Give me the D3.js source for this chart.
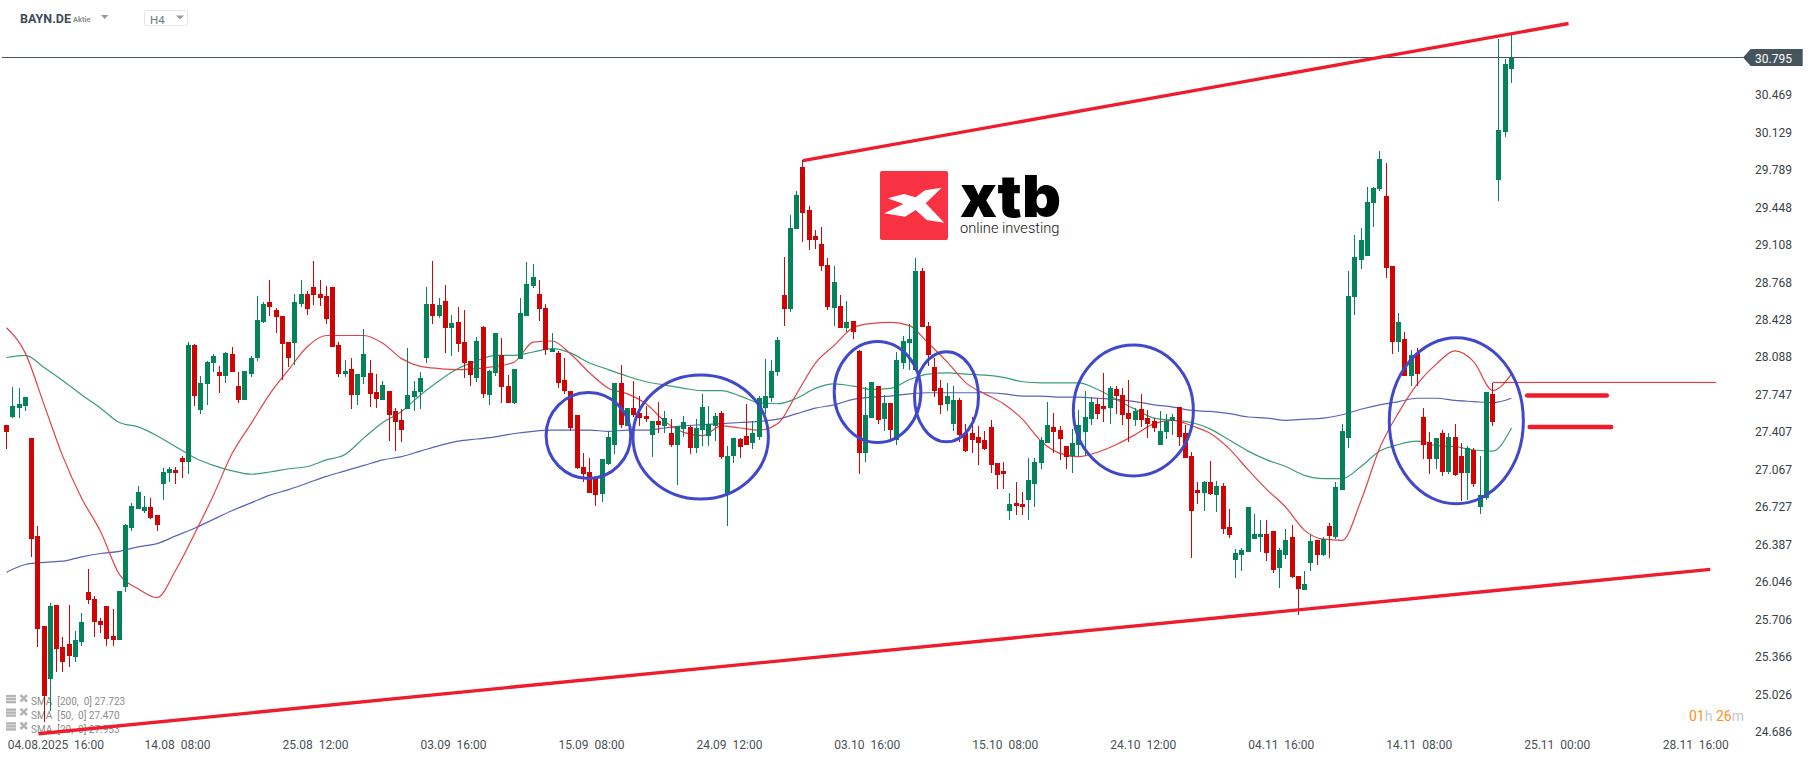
<!DOCTYPE html>
<html>
<head>
<meta charset="utf-8">
<title>BAYN.DE H4</title>
<script src="https://cdn.jsdelivr.net/npm/d3@7/dist/d3.min.js"></script>
<style>
html,body{margin:0;padding:0;background:#fff;}
svg{display:block;}
text{font-family:Roboto,sans-serif;}
.axis path,.axis line{display:none;}
.axis text{font-family:Roboto,sans-serif;font-size:12px;white-space:pre;}
</style>
</head>
<body>
<svg id="chart" width="1815" height="761"></svg>
<script>
const opens = [
27.46,27.53,27.61,27.63,27.34,26.45,25.63,25.15,25.82,25.44,
25.47,25.35,25.49,25.94,25.88,25.68,25.81,25.54,25.50,25.99,
26.52,26.69,26.68,26.71,26.64,26.92,27.02,27.05,27.16,27.12,
28.18,27.59,27.83,28.02,27.94,27.90,28.10,27.81,27.68,27.92,
28.07,28.39,28.57,28.50,28.45,28.21,28.20,28.56,28.65,28.71,
28.65,28.63,28.71,28.18,27.92,27.97,27.73,27.89,27.93,27.76,
27.68,27.77,27.58,27.50,27.60,27.71,27.76,28.07,28.56,28.45,
28.58,28.34,28.39,28.21,28.04,27.88,28.35,27.73,27.93,28.09,
27.81,27.66,28.06,28.45,28.72,28.65,28.52,28.12,28.11,27.87,
27.77,27.55,27.08,27.03,26.97,26.83,27.10,27.28,27.84,27.45,
27.61,27.57,27.54,27.37,27.49,27.45,27.38,27.28,27.42,27.44,
27.25,27.41,27.36,27.45,27.57,26.83,27.18,27.33,27.36,27.29,
27.35,27.61,27.70,27.94,28.64,28.51,29.24,29.80,29.41,29.17,
29.10,28.91,28.52,28.54,28.34,28.40,28.13,27.20,27.52,27.81,
27.51,27.66,27.32,28.02,28.20,27.96,28.86,28.36,27.98,27.79,
27.65,27.47,27.68,27.38,27.38,27.35,27.32,27.44,27.11,27.04,
26.68,26.75,26.74,26.78,26.92,27.11,27.29,27.44,27.41,27.27,
27.18,27.28,27.39,27.51,27.65,27.63,27.61,27.78,27.73,27.57,
27.50,27.60,27.52,27.49,27.28,27.39,27.49,27.62,27.38,27.18,
26.87,26.84,26.94,26.82,26.90,26.53,26.23,26.28,26.30,26.42,
26.44,26.47,26.49,26.16,26.28,26.44,26.09,25.96,26.20,26.41,
26.28,26.54,26.44,26.87,27.34,28.62,28.96,28.99,29.47,29.60,
29.54,28.90,28.21,28.24,27.90,28.11,27.53,27.30,27.15,27.38,
27.03,27.35,27.18,27.02,27.23,26.71,26.79,27.74,29.68,30.12,30.69];
const highs = [
27.46,27.80,27.79,27.71,27.34,26.54,25.63,25.84,25.82,25.53,
25.82,25.59,25.75,26.15,25.90,25.70,25.81,25.79,25.95,26.56,
26.75,26.90,26.81,26.79,26.64,27.07,27.08,27.08,27.18,28.21,
28.19,27.90,28.04,28.10,27.99,28.12,28.17,27.94,27.95,28.08,
28.63,28.57,28.77,28.52,28.45,28.21,28.65,28.77,28.67,28.95,
28.77,28.72,28.71,28.21,28.05,28.07,27.92,28.33,28.05,27.92,
27.86,27.77,27.61,27.60,28.16,27.86,27.94,28.71,28.95,28.61,
28.73,28.46,28.53,28.50,28.04,28.26,28.36,27.96,28.29,28.25,
27.91,27.97,28.61,28.94,28.92,28.77,28.56,28.29,28.13,28.07,
27.77,27.55,27.20,27.16,26.97,27.15,27.40,27.84,28.00,27.61,
27.86,27.72,27.63,27.49,27.67,27.58,27.51,27.45,27.54,27.46,
27.51,27.74,27.63,27.57,27.58,27.27,27.34,27.34,27.65,27.49,
27.72,28.06,28.05,28.26,28.98,29.36,29.58,29.86,29.45,29.23,
29.26,28.97,28.90,28.64,28.58,28.40,28.14,27.80,27.85,27.81,
27.73,27.66,28.12,28.27,28.37,28.97,28.88,28.39,28.07,27.87,
27.84,27.81,27.70,27.47,27.53,27.45,27.40,27.50,27.11,27.12,
26.84,26.94,26.85,27.16,27.16,27.35,27.67,27.57,27.45,27.27,
27.42,27.59,27.77,27.71,27.70,27.93,27.81,27.81,27.79,27.87,
27.61,27.74,27.59,27.52,27.58,27.56,27.56,27.62,27.46,27.21,
26.94,26.95,27.13,26.95,26.93,26.69,26.33,26.34,26.71,26.65,
26.59,26.59,26.49,26.34,26.51,26.55,26.09,26.13,26.46,26.41,
26.44,26.57,26.94,27.47,28.86,29.18,29.25,29.62,29.62,29.95,
29.84,28.90,28.47,28.30,28.14,28.16,27.61,27.39,27.34,27.41,
27.38,27.47,27.29,27.27,27.25,27.18,27.76,27.84,30.96,30.78,31.02];
const lows = [
27.24,27.52,27.52,27.58,26.26,25.44,24.76,24.86,25.21,25.21,
25.26,25.30,25.45,25.83,25.53,25.57,25.45,25.45,25.50,25.94,
26.49,26.69,26.66,26.60,26.49,26.78,26.94,26.92,26.98,27.01,
27.63,27.56,27.64,27.94,27.75,27.84,27.94,27.66,27.68,27.89,
28.04,28.38,28.45,28.29,27.87,27.98,28.00,28.53,28.46,28.55,
28.54,28.37,28.17,27.89,27.89,27.60,27.64,27.83,27.62,27.61,
27.68,27.31,27.22,27.30,27.60,27.58,27.60,28.02,28.37,28.43,
28.11,28.08,28.12,27.88,27.81,27.85,27.70,27.64,27.90,27.66,
27.66,27.65,28.06,28.45,28.70,28.40,28.09,28.12,27.79,27.74,
27.40,27.06,26.94,26.84,26.72,26.76,27.09,27.19,27.43,27.45,
27.53,27.45,27.48,27.17,27.38,27.38,27.26,26.91,27.35,27.19,
27.20,27.27,27.27,27.31,27.15,26.54,27.11,27.16,27.28,27.24,
27.32,27.56,27.67,27.90,28.36,28.48,29.24,29.12,29.05,29.06,
28.86,28.50,28.36,28.34,28.30,28.24,27.01,27.12,27.52,27.47,
27.40,27.33,27.28,27.97,27.96,27.96,28.35,27.99,27.71,27.56,
27.58,27.40,27.30,27.21,27.20,27.09,27.23,27.02,26.88,26.88,
26.59,26.64,26.64,26.59,26.71,27.06,27.29,27.20,27.14,27.06,
27.02,27.18,27.18,27.46,27.51,27.48,27.47,27.56,27.46,27.30,
27.45,27.44,27.34,27.39,27.28,27.33,27.37,27.27,27.16,26.25,
26.74,26.68,26.82,26.67,26.47,26.43,26.07,26.13,26.30,26.42,
26.30,26.22,26.11,25.98,26.24,26.07,25.73,25.96,26.13,26.19,
26.27,26.25,26.42,26.87,27.25,28.46,28.87,28.99,29.26,29.58,
28.79,28.10,28.12,27.90,27.81,27.81,27.15,27.01,27.06,26.99,
27.01,26.99,26.77,26.78,26.89,26.65,26.78,27.45,29.49,30.07,30.56];
const closes = [
27.39,27.63,27.65,27.71,26.42,25.60,25.00,25.81,25.42,25.30,
25.36,25.50,25.67,25.87,25.67,25.64,25.51,25.50,25.95,26.55,
26.72,26.85,26.71,26.61,26.55,27.03,27.06,27.02,27.12,28.18,
27.72,27.84,28.03,28.08,27.90,28.11,27.94,27.68,27.95,28.07,
28.41,28.56,28.53,28.44,28.19,28.07,28.57,28.65,28.51,28.64,
28.61,28.42,28.17,27.92,27.95,27.73,27.92,28.10,27.74,27.69,
27.82,27.55,27.48,27.41,27.73,27.77,27.88,28.56,28.45,28.55,
28.34,28.38,28.19,28.02,27.91,28.22,27.74,27.95,28.29,27.80,
27.66,27.97,28.47,28.74,28.80,28.51,28.14,28.15,27.84,27.77,
27.43,27.07,27.01,26.84,26.82,27.15,27.35,27.84,27.46,27.61,
27.55,27.52,27.51,27.49,27.46,27.52,27.28,27.45,27.48,27.25,
27.43,27.62,27.47,27.54,27.17,27.18,27.34,27.26,27.28,27.38,
27.70,27.72,27.95,28.23,28.51,29.25,29.55,29.38,29.14,29.14,
28.90,28.53,28.76,28.34,28.39,28.30,27.20,27.55,27.85,27.50,
27.66,27.41,28.05,28.22,28.24,28.86,28.35,28.09,27.77,27.64,
27.72,27.68,27.37,27.22,27.32,27.29,27.24,27.09,27.00,27.01,
26.74,26.72,26.71,26.96,27.12,27.32,27.46,27.39,27.33,27.17,
27.29,27.46,27.53,27.67,27.56,27.60,27.79,27.72,27.55,27.51,
27.58,27.50,27.47,27.43,27.40,27.49,27.53,27.35,27.16,26.68,
26.84,26.94,26.83,26.90,26.51,26.46,26.29,26.32,26.71,26.47,
26.47,26.29,26.14,26.32,26.41,26.08,25.97,26.01,26.40,26.28,
26.42,26.45,26.89,27.40,28.63,28.98,29.14,29.48,29.61,29.87,
28.88,28.21,28.39,27.90,28.09,27.92,27.28,27.15,27.34,27.03,
27.35,27.00,27.02,27.25,26.92,26.82,27.76,27.48,30.14,30.74,30.795];

// moving averages, read at every third candle
const smaStep = 3;
const sma20 = [
28.34,28.11,27.64,27.17,26.79,26.49,26.10,25.97,25.89,26.14,
26.47,26.82,27.20,27.47,27.74,27.96,28.17,28.27,28.27,28.27,
28.20,28.06,27.99,27.97,
27.96,27.97,27.99,28.03,28.21,28.22,28.10,27.93,27.79,27.74,
27.65,27.49,27.39,27.36,27.45,27.43,27.41,27.47,27.74,28.02,
28.18,
28.34,28.38,28.39,28.36,28.20,28.03,27.84,27.74,27.65,
27.51,27.31,27.20,27.17,27.21,27.28,27.37,27.47,27.50,
27.45,27.38,27.24,27.05,26.87,26.71,26.50,26.42,26.41,26.77,
27.25,27.57,27.83,28.01,28.13,28.03,27.77,27.92];
const sma50 = [
28.07,28.09,27.98,27.86,27.73,27.61,27.48,27.44,27.36,27.26,
27.16,27.09,27.04,27.01,27.03,27.06,27.08,27.14,27.19,27.34,
27.48,27.58,27.73,27.86,
27.97,28.04,28.09,28.09,28.12,28.15,28.11,28.02,27.96,27.90,
27.85,27.82,27.79,27.77,27.77,27.72,27.66,27.65,27.70,27.79,
27.83,
27.81,27.78,27.79,27.87,27.92,27.93,27.92,27.91,27.89,
27.85,27.84,27.84,27.84,27.78,27.69,27.60,27.52,27.50,
27.48,27.42,27.32,27.22,27.14,27.08,27.00,26.97,26.97,27.08,
27.22,27.28,27.31,27.27,27.26,27.23,27.22,27.43];
const sma200 = [
26.12,26.19,26.21,26.22,26.26,26.29,26.31,26.35,26.38,26.45,
26.52,26.60,26.68,26.75,26.82,26.87,26.93,26.99,27.04,27.09,
27.14,27.17,27.22,27.27,
27.31,27.33,27.35,27.38,27.40,27.41,27.41,27.41,27.40,27.41,
27.41,27.43,27.45,27.46,27.47,27.48,27.49,27.51,27.56,27.61,
27.64,
27.69,27.71,27.72,27.74,27.75,27.75,27.75,27.75,27.74,
27.72,27.72,27.71,27.71,27.70,27.69,27.67,27.64,27.62,
27.59,27.58,27.56,27.53,27.52,27.50,27.51,27.52,27.55,27.60,
27.64,27.67,27.70,27.70,27.68,27.67,27.66,27.70];

const yTicks = [30.469,30.129,29.789,29.448,29.108,28.768,28.428,28.088,27.747,27.407,27.067,26.727,26.387,26.046,25.706,25.366,25.026,24.686];
const xTickIdx = [7.8,27.2,49.2,71.2,93.2,115.2,137.2,159.2,181.2,203.2,225.2,247.2,269.3];
const xTickLabels = ["04.08.2025  16:00","14.08  08:00","25.08  12:00","03.09  16:00","15.09  08:00","24.09  12:00","03.10  16:00","15.10  08:00","24.10  12:00","04.11  16:00","14.11  08:00","25.11  00:00","28.11  16:00"];
const lastPrice = 30.795;
const legendLabels = ["SMA  [200,  0] 27.723","SMA  [50,  0] 27.470","SMA  [20,  0] 27.953"];

// analyst annotations, in candle index and price
const trendUpper = [[127,29.858],[249.1,31.104]];
const trendLower = [[5.1,24.653],[271.7,26.146]];
const levelThick = [[[242.5,27.725],[255.2,27.725]],[[242.9,27.439],[255.9,27.439]]];
const levelThin = [[237,27.844],[272.6,27.844]];
const circleIdx = [92.8,110.7,138.9,149.9,179.7,231.2];
const circlePrice = [27.362,27.348,27.757,27.714,27.589,27.495];
const circleRIdx = [6.75,10.8,6.91,5.1,9.57,10.69];
const circleRPrice = [0.39,0.563,0.459,0.409,0.595,0.754];

const green="#04825a", red="#cf0404", trendRed="#ee1c2c", circleBlue="#3f49c9";
const svg=d3.select("#chart");
const x=d3.scaleLinear().domain([0,240]).range([6.5,1511.5]);
const y=d3.scaleLinear().domain([24.686,30.795]).range([730.1,57.5]);

// header
svg.append("text").attr("x",20).attr("y",23).attr("font-size",12.5).attr("font-weight",700).attr("fill","#3e4d57").text("BAYN.DE");
svg.append("text").attr("x",73).attr("y",22).attr("font-size",7.5).attr("font-weight",700).attr("fill","#8d8d8d").text("Aktie");
svg.append("path").attr("d","M101 15L108.5 15L104.7 19Z").attr("fill","#9a9a9a");
svg.append("rect").attr("x",144.5).attr("y",10.5).attr("width",43).attr("height",15).attr("rx",2).attr("fill","#fff").attr("stroke","#e6e6e6");
svg.append("text").attr("x",150).attr("y",24).attr("font-size",11.5).attr("fill","#6f7c82").text("H4");
svg.append("path").attr("d","M176 15.5L184 15.5L180 19.5Z").attr("fill","#9a9a9a");

// logo
svg.append("rect").attr("x",880).attr("y",171).attr("width",68).attr("height",69).attr("rx",2).attr("fill","#f93243");
svg.append("path").attr("d","M941.7 187.7L925 190.3L915.7 197.3L904 194L887.7 198.3L903.3 204L884.3 213.3L905 216.7L915.7 210L926.7 220L944.3 222.7L925.7 203.3Z").attr("fill","#fff");
svg.append("text").attr("x",960).attr("y",217).style("font-family","Inter,sans-serif").attr("font-size",58).attr("font-weight",900).attr("fill","#000").attr("textLength",101).attr("lengthAdjust","spacingAndGlyphs").text("xtb");
svg.append("text").attr("x",960).attr("y",233).style("font-family","Roboto,sans-serif").attr("font-size",15.5).attr("font-weight",300).attr("fill","#111").attr("textLength",99.5).attr("lengthAdjust","spacingAndGlyphs").text("online investing");

// legend
const legendY=[701.7,715.2,729];
const legend=svg.append("g");
legendLabels.forEach((t,i)=>{
  const c=legendY[i];
  [-6.8,-3.8,-0.8].forEach(d=>legend.append("rect").attr("x",6).attr("y",c+d).attr("width",10).attr("height",2.4).attr("fill","#b4b4b4"));
  legend.append("path").attr("d",`M20.5 ${c-6.5}L27 ${c}M27 ${c-6.5}L20.5 ${c}`).attr("stroke","#b4b4b4").attr("stroke-width",2.6);
  legend.append("text").attr("x",31).attr("y",c+3.6).attr("font-size",10).attr("fill","#8c8c8c").style("white-space","pre").text(t);
});

// current price line
svg.append("line").attr("x1",2).attr("x2",1743).attr("y1",y(lastPrice)).attr("y2",y(lastPrice)).attr("stroke","#46545e").attr("stroke-width",1);

// moving averages
const maLine=d3.line().x((d,i)=>x(i*smaStep)).y(d=>y(d)).curve(d3.curveMonotoneX);
[[sma200,"#5a62b8"],[sma50,"#3a9d78"],[sma20,"#e04448"]].forEach(([s,c])=>{
  svg.append("path").attr("d",maLine(s)).attr("fill","none").attr("stroke",c).attr("stroke-width",1.2);
});

// candles
const candles=svg.append("g").attr("shape-rendering","crispEdges");
opens.forEach((o,i)=>{
  const c=closes[i],col=c>=o?green:red;
  const xp=Math.floor(x(i));
  const top=Math.round(y(Math.max(o,c))),bot=Math.round(y(Math.min(o,c)));
  const hi=Math.round(y(highs[i])),lo=Math.round(y(lows[i]));
  candles.append("rect").attr("x",xp).attr("y",hi).attr("width",1).attr("height",Math.max(1,lo-hi)).attr("fill",col);
  candles.append("rect").attr("x",xp-2).attr("y",top).attr("width",5).attr("height",Math.max(1,bot-top)).attr("fill",col);
});

// annotations
const seg=d3.line().x(d=>x(d[0])).y(d=>y(d[1]));
[trendUpper,trendLower].forEach(s=>svg.append("path").attr("d",seg(s)).attr("fill","none").attr("stroke",trendRed).attr("stroke-width",3.4));
svg.append("path").attr("d",seg(levelThin)).attr("fill","none").attr("stroke",trendRed).attr("stroke-width",1);
levelThick.forEach(s=>svg.append("path").attr("d",seg(s)).attr("fill","none").attr("stroke",trendRed).attr("stroke-width",4.5).attr("stroke-linecap","round"));
circleIdx.forEach((ci,i)=>{
  svg.append("ellipse").attr("cx",x(ci)).attr("cy",y(circlePrice[i]))
    .attr("rx",x(circleRIdx[i])-x(0)).attr("ry",y(0)-y(circleRPrice[i]))
    .attr("fill","none").attr("stroke",circleBlue).attr("stroke-width",3);
});

// axes
const xAxis=d3.axisBottom(x).tickValues(xTickIdx).tickFormat((d,i)=>xTickLabels[i]).tickSize(0).tickPadding(0);
const xg=svg.append("g").attr("class","axis").attr("transform","translate(0,740)").call(xAxis);
xg.selectAll("text").attr("fill","#4a5056");
const yAxis=d3.axisRight(y).tickValues(yTicks).tickFormat(d3.format(".3f")).tickSize(0).tickPadding(0);
const yg=svg.append("g").attr("class","axis").attr("transform","translate(1755,1.5)").call(yAxis);
yg.selectAll("text").attr("fill","#3a4248");

// current price tag
const py=y(lastPrice);
svg.append("path").attr("d",`M1743 ${py}L1750.7 ${py-8.5}L1802.7 ${py-8.5}L1802.7 ${py+8.5}L1750.7 ${py+8.5}Z`).attr("fill","#46545e");
svg.append("text").attr("x",1755).attr("y",py+5.7).attr("font-size",12).attr("fill","#fff").text(d3.format(".3f")(lastPrice));

// countdown
const cd=svg.append("text").attr("x",1689).attr("y",720.8).attr("font-size",14);
[["01","#f7941d"],["h ","#c4c8cc"],["26","#f7941d"],["m","#c4c8cc"]].forEach(([t,c])=>cd.append("tspan").attr("fill",c).style("white-space","pre").text(t));
</script>
</body>
</html>
